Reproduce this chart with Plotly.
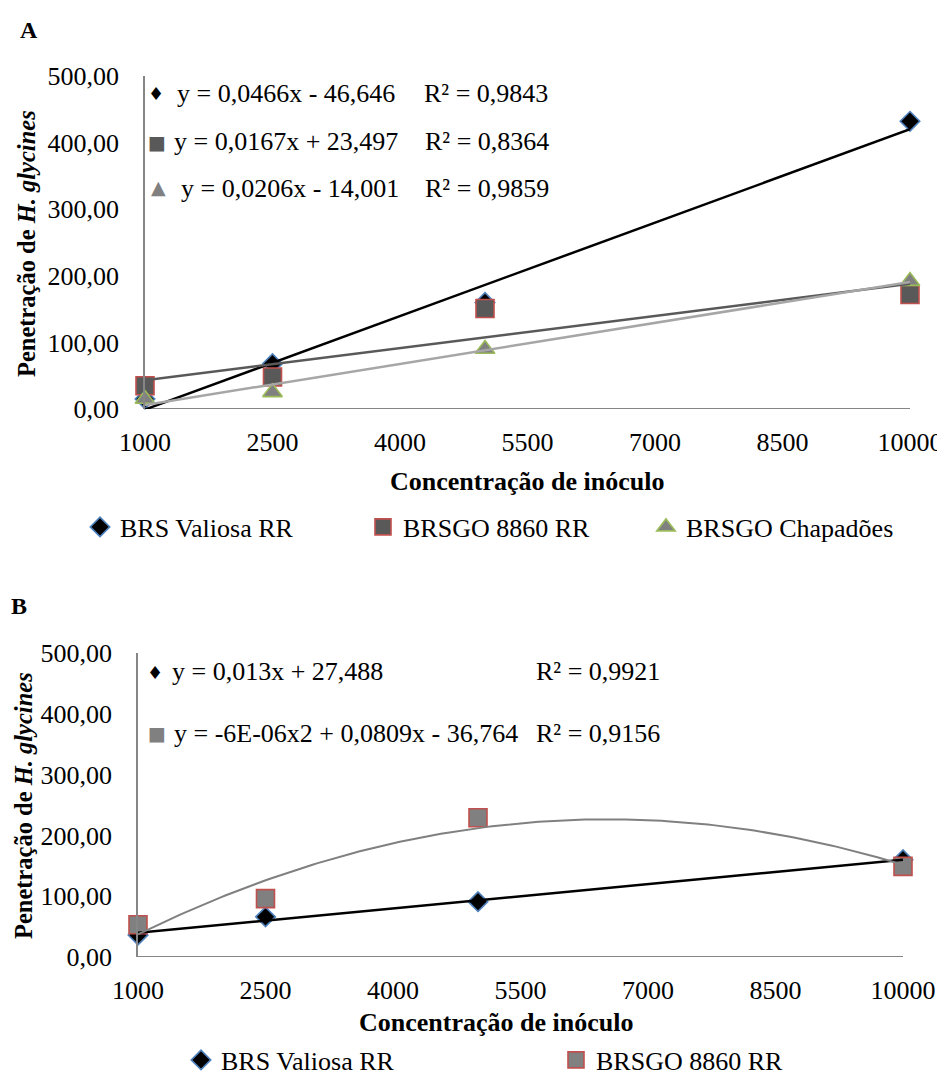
import numpy as np
import plotly.graph_objects as go

# ---------------- data ----------------
conc = [1000, 2500, 5000, 10000]
x_ticks = [1000, 2500, 4000, 5500, 7000, 8500, 10000]
x_ticktext = ["1000", "2500", "4000", "5500", "7000", "8500", "10000"]
y_ticks = [0, 100, 200, 300, 400, 500]
y_ticktext = ["0,00", "100,00", "200,00", "300,00", "400,00", "500,00"]

# Panel A
a_valiosa = [15, 68, 160, 432]
a_8860 = [35, 48, 151, 172]
a_chapadoes = [15, 25, 90, 192]
# Panel B
b_valiosa = [36, 66, 91, 160]
b_8860 = [53, 96, 229, 149]

names = ["BRS Valiosa RR", "BRSGO 8860 RR", "BRSGO Chapadões"]

eq_a = ["y = 0,0466x - 46,646", "y = 0,0167x + 23,497", "y = 0,0206x - 14,001"]
r2_a = ["R² = 0,9843", "R² = 0,8364", "R² = 0,9859"]
eq_b = ["y = 0,013x + 27,488", "y = -6E-06x2 + 0,0809x - 36,764"]
r2_b = ["R² = 0,9921", "R² = 0,9156"]

FONT = "Liberation Serif"
SYMF = "DejaVu Sans"
OFF = 8                      # page body margin of the html page
W, H = 945 - OFF, 1072 - OFF


def px_x(p):
    return (p - OFF) / W


def px_y(p):
    return 1 - (p - OFF) / H


fig = go.Figure()
SIZES = {"diamond": 15, "square": 18, "triangle-up": 17}


def markers(xa, ya, y, name, symbol, fill, border, legend):
    fig.add_trace(go.Scatter(
        x=conc, y=y, mode="markers", name=name, xaxis=xa, yaxis=ya,
        legend=legend, cliponaxis=False,
        marker=dict(symbol=symbol, size=SIZES[symbol], color=fill,
                    line=dict(color=border, width=1.6))))


def trend(xa, ya, y, deg, color, width):
    coef = np.polyfit(conc, y, deg)
    xs = np.linspace(conc[0], conc[-1], 150)
    fig.add_trace(go.Scatter(
        x=xs, y=np.polyval(coef, xs), mode="lines", xaxis=xa, yaxis=ya,
        showlegend=False, hoverinfo="skip", cliponaxis=False,
        line=dict(color=color, width=width)))


# Panel A
markers("x", "y", a_valiosa, names[0], "diamond", "#000000", "#4F81BD", "legend")
markers("x", "y", a_8860, names[1], "square", "#595959", "#C0504D", "legend")
markers("x", "y", a_chapadoes, names[2], "triangle-up", "#808080", "#9BBB59", "legend")
trend("x", "y", a_valiosa, 1, "#000000", 2.5)
trend("x", "y", a_8860, 1, "#595959", 2.5)
trend("x", "y", a_chapadoes, 1, "#A6A6A6", 2.5)

# Panel B
markers("x2", "y2", b_valiosa, names[0], "diamond", "#000000", "#4F81BD", "legend2")
markers("x2", "y2", b_8860, names[1], "square", "#808080", "#C0504D", "legend2")
trend("x2", "y2", b_valiosa, 1, "#000000", 2.5)
trend("x2", "y2", b_8860, 2, "#808080", 2)

xaxis_common = dict(range=[1000, 10000], tickvals=x_ticks, ticktext=x_ticktext,
                    showgrid=False, zeroline=False, showline=False, ticks="",
                    tickfont=dict(family=FONT, size=26, color="#000"),
                    ticklabelstandoff=15, automargin=False)
yaxis_common = dict(range=[0, 500], tickvals=y_ticks, ticktext=y_ticktext,
                    showgrid=False, zeroline=False, showline=True,
                    linecolor="#868686", linewidth=1.5, ticks="",
                    tickfont=dict(family=FONT, size=26, color="#000"),
                    ticklabelstandoff=19, automargin=False)

fig.update_layout(
    width=W, height=H, margin=dict(l=0, r=0, t=0, b=0, autoexpand=False),
    paper_bgcolor="white", plot_bgcolor="white",
    font=dict(family=FONT, size=26, color="#000"),
    xaxis=dict(domain=[px_x(145), px_x(910)], anchor="y", **xaxis_common),
    yaxis=dict(domain=[px_y(409), px_y(76)], anchor="x", **yaxis_common),
    xaxis2=dict(domain=[px_x(138), px_x(903)], anchor="y2", **xaxis_common),
    yaxis2=dict(domain=[px_y(957), px_y(653)], anchor="x2", **yaxis_common),
    legend=dict(orientation="h", x=px_x(80), y=px_y(527), yanchor="middle",
                xanchor="left", entrywidth=238, itemwidth=30,
                font=dict(family=FONT, size=26), bgcolor="rgba(0,0,0,0)"),
    legend2=dict(orientation="h", x=px_x(181), y=px_y(1060), yanchor="middle",
                 xanchor="left", entrywidth=330, itemwidth=30,
                 font=dict(family=FONT, size=26), bgcolor="rgba(0,0,0,0)"),
    showlegend=True,
)

# x-axis baselines (gray) on the zero line
for xa, ya in [("x", "y"), ("x2", "y2")]:
    fig.add_shape(type="line", xref=xa, yref=ya, x0=1000, x1=10000, y0=0, y1=0,
                  line=dict(color="#868686", width=2), layer="below")

ann = []


def text(x, y, t, size=26, xanchor="left", angle=0, family=FONT, color="#000"):
    ann.append(dict(x=px_x(x), y=px_y(y), xref="paper", yref="paper", text=t,
                    showarrow=False, xanchor=xanchor, yanchor="middle",
                    textangle=angle, font=dict(family=family, size=size, color=color)))


text(29, 30, "<b>A</b>", 24, xanchor="center")
text(19, 606, "<b>B</b>", 24, xanchor="center")

# equations panel A
text(156, 94, "♦", 18, "center", family=SYMF, color="#000000")
text(157, 142, "■", 19, "center", family=SYMF, color="#595959")
text(158, 187, "▲", 19, "center", family=SYMF, color="#808080")
text(175, 93, eq_a[0])
text(172, 141, eq_a[1])
text(179, 188, eq_a[2])
text(422, 93, r2_a[0])
text(423, 141, r2_a[1])
text(423, 188, r2_a[2])

# equations panel B
text(155, 672, "♦", 18, "center", family=SYMF, color="#000000")
text(157, 733, "■", 19, "center", family=SYMF, color="#808080")
text(170, 671.5, eq_b[0])
text(172, 733.5, eq_b[1])
text(534, 671.5, r2_b[0])
text(534, 733.5, r2_b[1])

# axis titles
ytitle = "<b>Penetração de <i>H. glycines</i></b>"
text(27, 244, ytitle, 24.5, xanchor="center", angle=-90)
text(23, 806, ytitle, 24.5, xanchor="center", angle=-90)
text(527, 481, "<b>Concentração de inóculo</b>", 26, xanchor="center")
text(496, 1022, "<b>Concentração de inóculo</b>", 26, xanchor="center")

fig.update_layout(annotations=ann)
fig.write_html("out.html")
